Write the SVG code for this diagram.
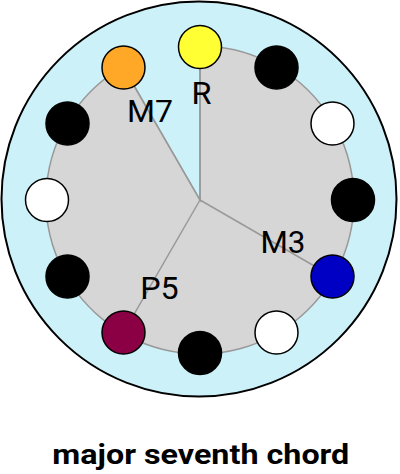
<svg xmlns="http://www.w3.org/2000/svg" width="400" height="474" viewBox="0 0 400 474">
<style>
.note{stroke:#000;stroke-width:1.5}
.lbl{font-family:Roboto,"Liberation Sans",sans-serif;font-size:30.5px;fill:#000;text-anchor:middle}
.ray{stroke:#999;stroke-width:1.5;fill:none}
.title{font-family:Roboto,"Liberation Sans",sans-serif;font-size:28px;font-weight:bold;fill:#000;text-anchor:middle}
</style>
<rect width="400" height="474" fill="#fff"/>
<circle id="dial" cx="199" cy="199" r="197.5" fill="#ccf1f8" stroke="#000" stroke-width="2"/>
<path id="chord-area" d="M200,200 L200,46 A154,154 0 1 1 123,66.6 Z" fill="#d6d6d6" stroke="#999" stroke-width="1.5"/>
<g id="connectors">
<line class="ray" x1="200" y1="200" x2="200" y2="46"/>
<line class="ray" x1="200" y1="200" x2="333.4" y2="277"/>
<line class="ray" x1="200" y1="200" x2="123" y2="333.4"/>
<line class="ray" x1="200" y1="200" x2="123" y2="66.6"/>
</g>
<g id="n0"><circle class="note" cx="200" cy="47" r="21.5" fill="#ffff33"/></g>
<g id="n1"><circle class="note" cx="276.5" cy="67.5" r="21.5" fill="#000"/></g>
<g id="n2"><circle class="note" cx="332.5" cy="123.5" r="21.5" fill="#fff"/></g>
<g id="n3"><circle class="note" cx="353" cy="200" r="21.5" fill="#000"/></g>
<g id="n4"><circle class="note" cx="332.5" cy="276.5" r="21.5" fill="#0000c4"/></g>
<g id="n5"><circle class="note" cx="276.5" cy="332.5" r="21.5" fill="#fff"/></g>
<g id="n6"><circle class="note" cx="200" cy="353" r="21.5" fill="#000"/></g>
<g id="n7"><circle class="note" cx="123.5" cy="332.5" r="21.5" fill="#8b0045"/></g>
<g id="n8"><circle class="note" cx="67.5" cy="276.5" r="21.5" fill="#000"/></g>
<g id="n9"><circle class="note" cx="47" cy="200" r="21.5" fill="#fff"/></g>
<g id="n10"><circle class="note" cx="67.5" cy="123.5" r="21.5" fill="#000"/></g>
<g id="n11"><circle class="note" cx="123.5" cy="67.5" r="21.5" fill="#ffa726"/></g>
<g id="labels">
<text class="lbl" x="201.5" y="103.5" textLength="20" lengthAdjust="spacingAndGlyphs">R</text>
<text class="lbl" x="150" y="122" textLength="46" lengthAdjust="spacingAndGlyphs">M7</text>
<text class="lbl" x="283" y="253" textLength="45" lengthAdjust="spacingAndGlyphs">M3</text>
<text class="lbl" x="159.5" y="298.5" textLength="38.5" lengthAdjust="spacingAndGlyphs">P5</text>
</g>
<text class="title" x="200.8" y="464.3" textLength="297" lengthAdjust="spacingAndGlyphs">major seventh chord</text>
</svg>
